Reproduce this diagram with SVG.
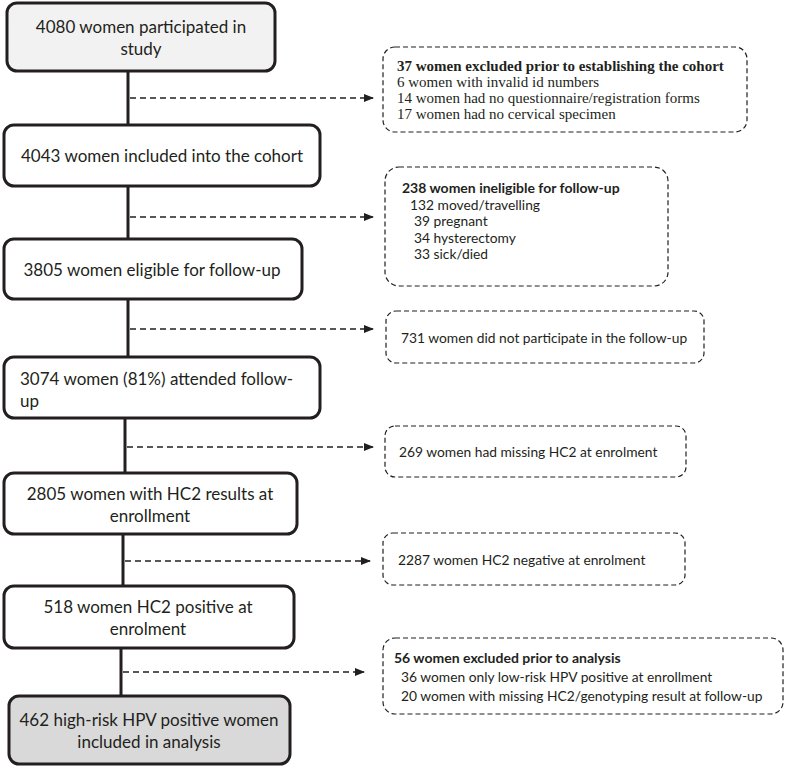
<svg xmlns="http://www.w3.org/2000/svg" width="787" height="766" viewBox="0 0 787 766">
<style>
.main{fill:#fff;stroke:#231f20;stroke-width:3}
.side{fill:#fff;stroke:#231f20;stroke-width:1.2;stroke-dasharray:5 3}
.t{font-family:Lato,"Open Sans","Liberation Sans",sans-serif;font-size:17px;fill:#231f20}
.s{font-family:Lato,"Open Sans","Liberation Sans",sans-serif;font-size:13.8px;fill:#231f20}
.sb{font-family:Lato,"Open Sans","Liberation Sans",sans-serif;font-size:14px;font-weight:bold;fill:#231f20}
.r{font-family:"Liberation Serif","Times New Roman",serif;font-size:15px;fill:#231f20}
.rb{font-family:"Liberation Serif","Times New Roman",serif;font-size:15px;font-weight:bold;fill:#231f20}
.v{stroke:#231f20;stroke-width:3;fill:none}
.d{stroke:#231f20;stroke-width:1.4;stroke-dasharray:6 4;fill:none;marker-end:url(#ah)}
</style>
<defs>
<marker id="ah" markerWidth="10" markerHeight="8" refX="9" refY="4" orient="auto" markerUnits="userSpaceOnUse">
<path d="M0,0 L10,4 L0,8 Z" fill="#231f20"/>
</marker>
</defs>
<rect width="787" height="766" fill="#fff"/>
<g id="connectors">
<line class="v" x1="128" y1="71" x2="128" y2="125"/>
<line class="v" x1="128" y1="186" x2="128" y2="239"/>
<line class="v" x1="128" y1="299" x2="128" y2="357"/>
<line class="v" x1="125" y1="418" x2="125" y2="473"/>
<line class="v" x1="123" y1="534" x2="123" y2="586"/>
<line class="v" x1="121" y1="645" x2="121" y2="696"/>
<line class="d" x1="130" y1="98" x2="373" y2="98"/>
<line class="d" x1="130" y1="217" x2="373" y2="217"/>
<line class="d" x1="130" y1="329" x2="373" y2="329"/>
<line class="d" x1="127" y1="447" x2="373" y2="447"/>
<line class="d" x1="125" y1="561" x2="370" y2="561"/>
<line class="d" x1="123" y1="672" x2="364" y2="672"/>
</g>
<g id="n1">
<rect class="main" x="7" y="3" width="268" height="68" rx="10" style="fill:#f2f2f2"/>
<text class="t" x="141" y="33" text-anchor="middle">4080 women participated in</text>
<text class="t" x="141" y="55" text-anchor="middle">study</text>
</g>
<g id="n2">
<rect class="main" x="4" y="125" width="316" height="61" rx="10"/>
<text class="t" x="162" y="162" text-anchor="middle">4043 women included into the cohort</text>
</g>
<g id="n3">
<rect class="main" x="4" y="239" width="298" height="60" rx="10"/>
<text class="t" x="152" y="276" text-anchor="middle">3805 women eligible for follow-up</text>
</g>
<g id="n4">
<rect class="main" x="4" y="357" width="316" height="61" rx="10"/>
<text class="t" x="20" y="385">3074 women (81%) attended follow-</text>
<text class="t" x="20" y="407">up</text>
</g>
<g id="n5">
<rect class="main" x="4" y="473" width="293" height="61" rx="10"/>
<text class="t" x="150" y="500" text-anchor="middle">2805 women with HC2 results at</text>
<text class="t" x="150" y="522" text-anchor="middle">enrollment</text>
</g>
<g id="n6">
<rect class="main" x="4" y="586" width="290" height="62" rx="10"/>
<text class="t" x="148" y="613" text-anchor="middle">518 women HC2 positive at</text>
<text class="t" x="148" y="635" text-anchor="middle">enrolment</text>
</g>
<g id="n7">
<rect class="main" x="9" y="696" width="281" height="68" rx="10" style="fill:#d9d9d9"/>
<text class="t" x="149" y="726" text-anchor="middle">462 high-risk HPV positive women</text>
<text class="t" x="149" y="748" text-anchor="middle">included in analysis</text>
</g>
<g id="e1">
<rect class="side" x="383" y="47" width="364" height="85" rx="12"/>
<text class="rb" x="397" y="71">37 women excluded prior to establishing the cohort</text>
<text class="r" x="397" y="87">6 women with invalid id numbers</text>
<text class="r" x="397" y="103">14 women had no questionnaire/registration forms</text>
<text class="r" x="397" y="119">17 women had no cervical specimen</text>
</g>
<g id="e2">
<rect class="side" x="385" y="167" width="283" height="119" rx="14"/>
<text class="sb" x="402" y="193">238 women ineligible for follow-up</text>
<text class="s" x="410" y="210">132 moved/travelling</text>
<text class="s" x="414" y="226">39 pregnant</text>
<text class="s" x="414" y="243">34 hysterectomy</text>
<text class="s" x="414" y="259">33 sick/died</text>
</g>
<g id="e3">
<rect class="side" x="386" y="311" width="318" height="52" rx="10"/>
<text class="s" x="401" y="343">731 women did not participate in the follow-up</text>
</g>
<g id="e4">
<rect class="side" x="385" y="426" width="301" height="51" rx="10"/>
<text class="s" x="399" y="457">269 women had missing HC2 at enrolment</text>
</g>
<g id="e5">
<rect class="side" x="383" y="533" width="302" height="52" rx="10"/>
<text class="s" x="398" y="565">2287 women HC2 negative at enrolment</text>
</g>
<g id="e6">
<rect class="side" x="383" y="638" width="400" height="76" rx="12"/>
<text class="sb" x="394" y="663">56 women excluded prior to analysis</text>
<text class="s" x="401" y="682">36 women only low-risk HPV positive at enrollment</text>
<text class="s" x="401" y="701">20 women with missing HC2/genotyping result at follow-up</text>
</g>
</svg>
